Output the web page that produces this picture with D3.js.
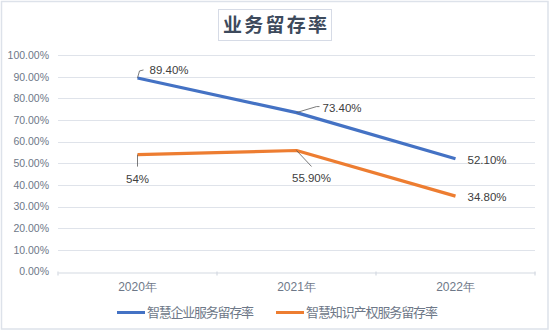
<!DOCTYPE html>
<html><head><meta charset="utf-8">
<script src="https://cdn.jsdelivr.net/npm/d3@7"></script>
<style>
body{margin:0;background:#fff;}
svg{display:block;font-family:"Liberation Sans","Noto Sans CJK SC",sans-serif;}
</style></head><body>
<svg id="c" width="550" height="331"></svg>
<script>
const categories = ["2020年","2021年","2022年"];
const seriesNames = ["智慧企业服务留存率","智慧知识产权服务留存率"];
const enterpriseValues = [89.4, 73.4, 52.1];
const ipValues = [54, 55.9, 34.8];
const enterpriseLabels = ["89.40%","73.40%","52.10%"];
const ipLabels = ["54%","55.90%","34.80%"];
const yTicks = [0,10,20,30,40,50,60,70,80,90,100];
const colors = ["#4472C4","#ED7D31"];

const svg = d3.select("#c");
const m = {l:58, r:535, t:55, b:271.5};
const x = d3.scaleBand().domain(categories).range([m.l, m.r]);
const y = d3.scaleLinear().domain([0,100]).range([m.b, m.t]);

// outer border
svg.append("rect").attr("x",1.5).attr("y",1.5).attr("width",546.5).attr("height",327.5)
  .attr("fill","#fff").attr("stroke","#dde2ea").attr("stroke-width",1.5);

// gridlines
svg.append("g").selectAll("line").data(yTicks.filter(d=>d>0)).join("line")
  .attr("x1",m.l).attr("x2",m.r).attr("y1",d=>Math.round(y(d))+0.5).attr("y2",d=>Math.round(y(d))+0.5)
  .attr("stroke","#dfe3ea").attr("stroke-width",1.2);

// y axis labels
const yAxis = d3.axisLeft(y).tickValues(yTicks).tickSize(0).tickPadding(0)
  .tickFormat(d=>d3.format(".2f")(d)+"%");
const ya = svg.append("g").attr("transform",`translate(49,0)`).call(yAxis);
ya.select(".domain").remove();
ya.selectAll("text").attr("fill","#6e7888").attr("font-size","10.5px");

// x axis
const xAxis = d3.axisBottom(x).tickSize(0).tickPadding(10);
const xa = svg.append("g").attr("transform",`translate(0,${Math.round(m.b)+0.5})`).call(xAxis);
xa.select(".domain").attr("stroke","#d4d9e1").attr("stroke-width",1.2);
xa.selectAll("text").attr("fill","#6e7888").attr("font-size","12px");
// boundary ticks
const bounds = categories.map(c=>x(c)).concat([m.r]);
svg.append("g").selectAll("line").data(bounds).join("line")
  .attr("x1",d=>d).attr("x2",d=>d).attr("y1",m.b).attr("y2",m.b+4)
  .attr("stroke","#d4d9e1").attr("stroke-width",1.2);

const cx = c => x(c) + x.bandwidth()/2;
const line = d3.line().x(d=>cx(d.c)).y(d=>y(d.v));
const series = [enterpriseValues, ipValues].map(vals=>categories.map((c,i)=>({c, v:vals[i]})));
series.forEach((s,i)=>{
  svg.append("path").datum(s).attr("d",line).attr("fill","none")
    .attr("stroke",colors[i]).attr("stroke-width",3.2).attr("stroke-linejoin","round");
});

// leader lines
const leaderColor = "#595959";
function leader(pts){
  svg.append("path").attr("d",d3.line()(pts)).attr("fill","none").attr("stroke",leaderColor).attr("stroke-width",0.8);
}
const p = (ci, vals, i) => [cx(categories[ci]), y(vals[i])];
{const [a,b]=p(0,enterpriseValues,0); leader([[a,b],[a+2,b-7],[a+6,b-8]]);}
{const [a,b]=p(1,enterpriseValues,1); leader([[a,b],[a+20,b-6],[a+23,b-6]]);}
{const [a,b]=p(0,ipValues,0); leader([[a,b],[a,b+12]]);}
{const [a,b]=p(1,ipValues,1); leader([[a,b],[a+15,b+16]]);}

// data labels
const lab = [
  {t:enterpriseLabels[0], ci:0, v:enterpriseValues[0], dx:12, dy:-8, anchor:"start"},
  {t:enterpriseLabels[1], ci:1, v:enterpriseValues[1], dx:26, dy:-5, anchor:"start"},
  {t:enterpriseLabels[2], ci:2, v:enterpriseValues[2], dx:12, dy:1, anchor:"start"},
  {t:ipLabels[0], ci:0, v:ipValues[0], dx:0, dy:24, anchor:"middle"},
  {t:ipLabels[1], ci:1, v:ipValues[1], dx:15, dy:27, anchor:"middle"},
  {t:ipLabels[2], ci:2, v:ipValues[2], dx:12, dy:1, anchor:"start"},
];
svg.append("g").selectAll("text").data(lab).join("text")
  .attr("x",d=>cx(categories[d.ci])+d.dx).attr("y",d=>y(d.v)+d.dy)
  .attr("dy","0.35em").attr("text-anchor",d=>d.anchor)
  .attr("font-size","11.5px").attr("fill","#404040").text(d=>d.t);

// title
svg.append("rect").attr("x",218.5).attr("y",9.5).attr("width",113).attr("height",31)
  .attr("fill","#fff").attr("stroke","#d6dbe6").attr("stroke-width",1);
svg.append("text").attr("x",223).attr("y",25).attr("dy","0.36em")
  .attr("font-family","'Noto Sans CJK SC',sans-serif").attr("font-weight","bold")
  .attr("font-size","19px").attr("fill","#3d4a5c")
  .attr("textLength",104).attr("lengthAdjust","spacing").text("业务留存率");

// legend
const lg = svg.append("g");
const legendX = [117, 276];
const legendW = [107, 132];
seriesNames.forEach((n,i)=>{
  lg.append("line").attr("x1",legendX[i]).attr("x2",legendX[i]+28).attr("y1",312.5).attr("y2",312.5)
    .attr("stroke",colors[i]).attr("stroke-width",3);
  lg.append("text").attr("x",legendX[i]+30).attr("y",312.5).attr("dy","0.36em")
    .attr("font-family","'Noto Sans CJK SC',sans-serif").attr("font-size","13px")
    .attr("textLength",legendW[i]).attr("lengthAdjust","spacing")
    .attr("fill","#6e7888").text(n);
});
</script>
</body></html>
